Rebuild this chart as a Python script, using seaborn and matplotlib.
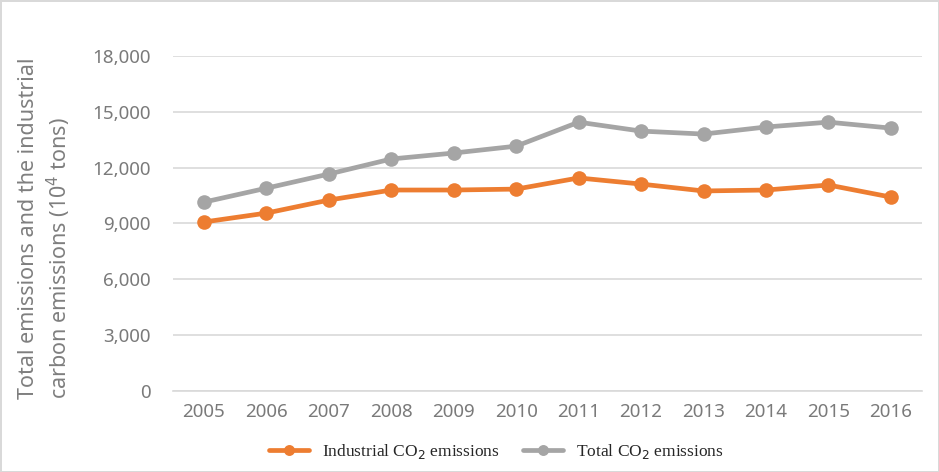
import pandas as pd
import seaborn as sns
import matplotlib.pyplot as plt
from matplotlib.ticker import FuncFormatter

years = ['2005', '2006', '2007', '2008', '2009', '2010',
         '2011', '2012', '2013', '2014', '2015', '2016']
industrial = [9080, 9560, 10260, 10800, 10800, 10850,
              11450, 11120, 10750, 10800, 11070, 10420]
total = [10150, 10900, 11660, 12470, 12790, 13160,
         14450, 13970, 13810, 14190, 14450, 14130]
series_names = ['Industrial CO$_2$ emissions', 'Total CO$_2$ emissions']

df = pd.DataFrame({'year': years * 2,
                   'value': industrial + total,
                   'series': [series_names[0]] * 12 + [series_names[1]] * 12})

sns.set_style('white')
plt.rcParams['font.family'] = ['Noto Sans', 'DejaVu Sans']

fig = plt.figure(figsize=(9.39, 4.72), dpi=100)
ax = fig.add_axes([0.184, 0.172, 0.798, 0.709])

sns.lineplot(data=df, x='year', y='value', hue='series', marker='o',
             palette=['#ED7D31', '#A5A5A5'], linewidth=3.4, markersize=10.5,
             markeredgewidth=0, sort=False, ax=ax)

ax.set_ylim(0, 18000)
ax.set_xlim(-0.5, 11.5)
ax.set_yticks(range(0, 18001, 3000))
ax.yaxis.set_major_formatter(FuncFormatter(lambda v, p: f'{int(v):,}'))
ax.grid(axis='y', color='#d9d9d9', linewidth=1.2)
ax.set_axisbelow(True)
for s in ['top', 'right', 'left']:
    ax.spines[s].set_visible(False)
ax.spines['bottom'].set_color('#d9d9d9')
ax.spines['bottom'].set_linewidth(1.2)
ax.tick_params(axis='both', length=0, labelsize=13.5, colors='#7a7a7a')
ax.tick_params(axis='y', pad=16)
ax.tick_params(axis='x', pad=9)

ax.set_xlabel('')
ax.set_ylabel('Total emissions and the industrial\ncarbon emissions (10$^4$ tons)',
              fontsize=15.5, color='#7f7f7f', linespacing=1.25,
              multialignment='left')
ax.yaxis.set_label_coords(-0.133, 0.485)

handles, labels = ax.get_legend_handles_labels()
ax.legend(handles, labels, loc='center', bbox_to_anchor=(0.432, -0.182), ncol=2,
          frameon=False, prop={'family': 'Liberation Serif', 'size': 12.5},
          handlelength=2.3, columnspacing=1.3, handletextpad=0.75,
          markerscale=0.75, labelcolor='#262626')

fig.patch.set_edgecolor('#d9d9d9')
fig.patch.set_linewidth(2)

plt.savefig('out.png', dpi=100)
